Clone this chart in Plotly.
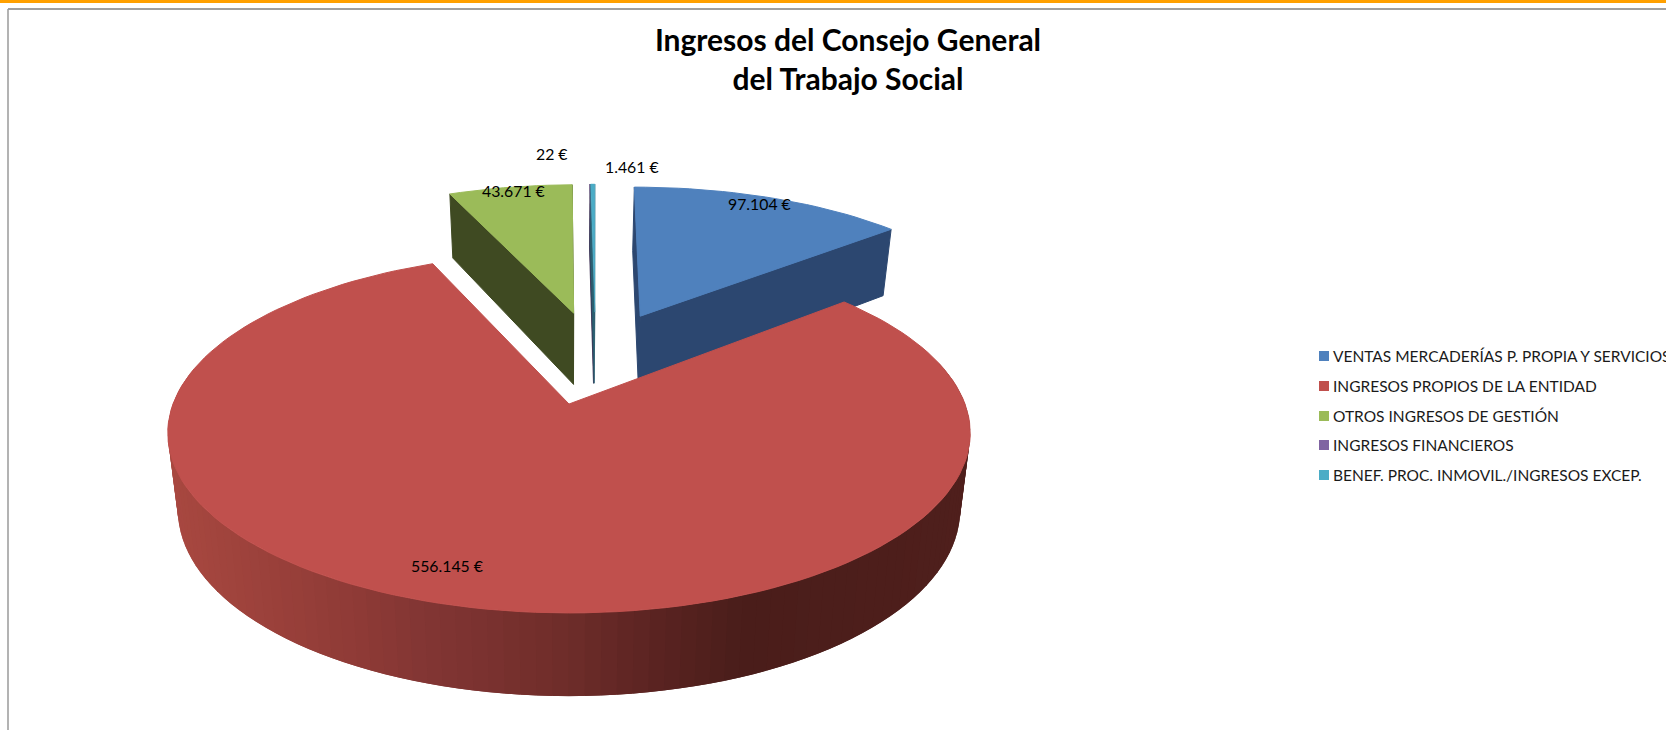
"""Ingresos del Consejo General del Trabajo Social: tarta 3D en perspectiva con porciones separadas."""

import numpy as np
import plotly.graph_objects as go

CATEGORIAS = [
    "VENTAS MERCADERÍAS P. PROPIA Y SERVICIOS",
    "INGRESOS PROPIOS DE LA ENTIDAD",
    "OTROS INGRESOS DE GESTIÓN",
    "INGRESOS FINANCIEROS",
    "BENEF. PROC. INMOVIL./INGRESOS EXCEP.",
]
VALORES = [97104, 556145, 43671, 22, 1461]
COLORES = ["#4F81BD", "#C0504D", "#9BBB59", "#8064A2", "#4BACC6"]
COLORES_CARA = ["#2C4770", "#6F2D2A", "#3F4A22", "#3B2C50", "#2B5F70"]

# degradado del lateral rojo: x en pantalla -> color
DEGRADADO_X = [166, 350, 405, 555, 650, 736, 975]
DEGRADADO_R = [168, 142, 132, 111, 90, 74, 79]
DEGRADADO_G = [72, 58, 54, 45, 35, 29, 31]
DEGRADADO_B = [64, 54, 52, 42, 33, 26, 28]

ANCHO, ALTO = 1666, 730
CX, CY = 569, 404       # centro de la porción roja en pantalla
F, G, K = 396, 175.3, 0.161   # proyección del plano de la tarta
PULL = 0.29             # separación de las porciones
SESGO = 0.0105          # las porciones del fondo se desvían un poco a la derecha
H0, H1 = 75.5, 7.7      # grosor según profundidad
ENCOGE = 0.975          # el plano inferior se ve algo más estrecho

totales = np.cumsum([0] + VALORES) / sum(VALORES) * 360


def direccion(ang):
    rad = np.radians(ang)
    return np.sin(rad), np.cos(rad)


def proyecta(px, py):
    d = 1 + K * py
    return CX + F * px / d, CY - G * py / d


def abajo(px, py):
    x, y = proyecta(px, py)
    return CX + (x - CX) * ENCOGE, y + H0 - H1 * py


def poligono(fig, xs, ys, color, nombre=None, grosor=1):
    fig.add_trace(go.Scatter(
        x=list(xs) + [xs[0]], y=list(ys) + [ys[0]], mode="lines", fill="toself",
        fillcolor=color, line=dict(color=color, width=grosor), showlegend=False,
        name=nombre, hoverinfo="name" if nombre else "skip",
    ))


def color_lateral(x):
    r = np.interp(x, DEGRADADO_X, DEGRADADO_R)
    g = np.interp(x, DEGRADADO_X, DEGRADADO_G)
    b = np.interp(x, DEGRADADO_X, DEGRADADO_B)
    return f"rgb({r:.0f},{g:.0f},{b:.0f})"


# el centro se coloca para que la porción roja quede en (0, 0)
sx, sy = direccion((totales[1] + totales[2]) / 2)
OX, OY = -PULL * sx, -PULL * sy


def dibuja_porcion(fig, i):
    a0, a1 = totales[i], totales[i + 1]
    dx, dy = direccion((a0 + a1) / 2)
    ax, ay = OX + PULL * dx, OY + PULL * dy
    angs = np.arange(a0, a1, 2.0).tolist() + [a1]
    bx = [ax + direccion(a)[0] for a in angs]
    by = [ay + direccion(a)[1] for a in angs]
    # grosor de línea: las porciones casi invisibles no deben engordar
    fino = 0.5 if a1 - a0 < 2 else 1

    if i == 1:
        # lateral curvo con degradado; cada tira pisa la anterior para que no se vean juntas
        for j in range(1, len(angs) - 1):
            if by[j] > 0.2 and by[j + 1] > 0.2:
                continue
            x0, y0 = proyecta(bx[j - 1], by[j - 1])
            x1, y1 = proyecta(bx[j + 1], by[j + 1])
            x2, y2 = abajo(bx[j + 1], by[j + 1])
            x3, y3 = abajo(bx[j - 1], by[j - 1])
            medio = proyecta(bx[j], by[j])[0]
            poligono(fig, [x0, x1, x2, x3], [y0, y1, y2, y3], color_lateral(medio), grosor=0)
    else:
        ax += SESGO * ay
        bx = [x + SESGO * y for x, y in zip(bx, by)]
        # caras de corte
        for px, py in ((bx[-1], by[-1]), (bx[0], by[0])):
            x0, y0 = proyecta(ax, ay)
            x1, y1 = proyecta(px, py)
            x2, y2 = abajo(px, py)
            x3, y3 = abajo(ax, ay)
            poligono(fig, [x0, x1, x2, x3], [y0, y1, y2, y3], COLORES_CARA[i], grosor=fino)

    xs, ys = proyecta(np.array([ax] + bx), np.array([ay] + by))
    poligono(fig, xs.tolist(), ys.tolist(), COLORES[i], CATEGORIAS[i], grosor=fino)


fig = go.Figure()
for i in (3, 4, 2, 0, 1):
    dibuja_porcion(fig, i)

# etiquetas de valor
ETIQUETA_X = [759, 447, 513, 552, 632]
ETIQUETA_Y = [203, 565, 190, 153, 166]
for v, x, y in zip(VALORES, ETIQUETA_X, ETIQUETA_Y):
    fig.add_annotation(x=x, y=y, text=f"{v:,}".replace(",", ".") + " €", showarrow=False,
                       font=dict(family="Lato", size=15.8, color="black"))

# leyenda
LEYENDA_Y = [356, 386, 416, 445, 475]
for nombre, color, y in zip(CATEGORIAS, COLORES, LEYENDA_Y):
    fig.add_trace(go.Scatter(
        x=[1324], y=[y], mode="markers", showlegend=False, hoverinfo="skip",
        marker=dict(color=color, size=10, symbol="square"),
    ))
    fig.add_annotation(x=1331, y=y, text=nombre, showarrow=False, xanchor="left",
                       font=dict(family="Lato", size=15.5, color="#1a1a1a"))

fig.update_layout(
    width=ANCHO, height=ALTO, margin=dict(l=0, r=0, t=0, b=0),
    paper_bgcolor="white", plot_bgcolor="white",
    xaxis=dict(range=[0, ANCHO], visible=False, fixedrange=True),
    yaxis=dict(range=[ALTO, 0], visible=False, fixedrange=True),
    title=dict(text="<b>Ingresos del Consejo General<br>del Trabajo Social</b>",
               x=848 / ANCHO, xanchor="center", y=1 - 51 / ALTO, yanchor="top",
               font=dict(family="Lato", size=30, color="black")),
    shapes=[
        dict(type="rect", xref="paper", yref="paper", x0=0, x1=1, y0=1, y1=1 - 3 / ALTO,
             fillcolor="#FFA000", line_width=0),
        dict(type="line", xref="paper", yref="paper", x0=8 / ANCHO, x1=1, y0=1 - 9 / ALTO,
             y1=1 - 9 / ALTO, line=dict(color="#808080", width=1.5)),
        dict(type="line", xref="paper", yref="paper", x0=8 / ANCHO, x1=8 / ANCHO, y0=0,
             y1=1 - 9 / ALTO, line=dict(color="#9a9a9a", width=1.5)),
    ],
)

fig.write_html("out.html", config={"displayModeBar": False},
               post_script="document.body.style.margin='0';")
